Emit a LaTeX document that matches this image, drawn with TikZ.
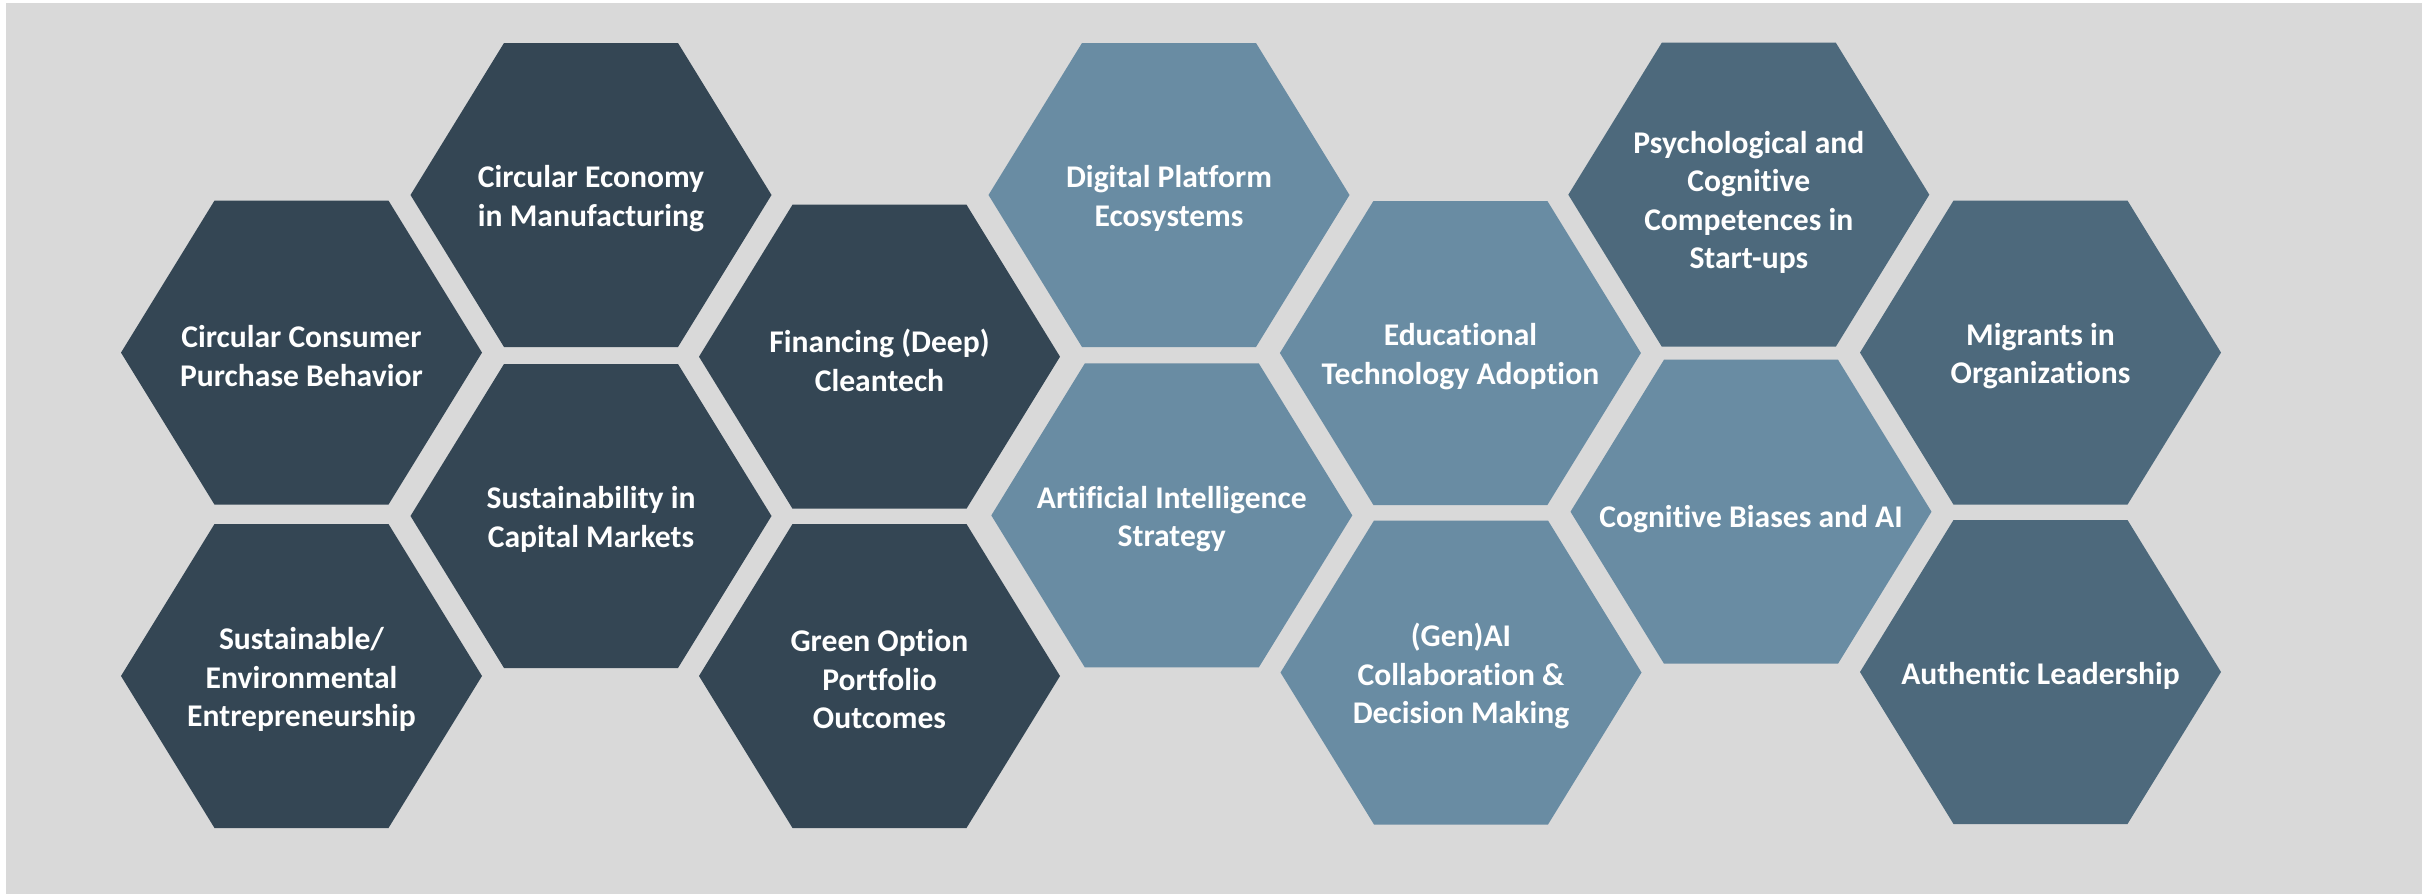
\documentclass[tikz,border=0pt]{standalone}
\usepackage{fontspec}
\setmainfont{Carlito}[Ligatures=NoCommon]
\definecolor{bggray}{HTML}{D9D9D9}
\definecolor{hexdark}{HTML}{344654}
\definecolor{hexlight}{HTML}{698CA3}
\definecolor{hexmid}{HTML}{4D697C}
\tikzset{
  hexlabel/.style={text=white, align=center, inner sep=0pt,
    font=\bfseries\fontsize{31.6}{38.5}\selectfont},
}
% name, x, y, colour, text, extra label offset
\newcommand\hexcell[6][0]{%
  \fill[#5] (#3-87,#4-152) -- (#3+87,#4-152) -- (#3+180.5,#4) -- (#3+87,#4+152)
    -- (#3-87,#4+152) -- (#3-180.5,#4) -- cycle;
  \node[hexlabel] (#2) at (#3,#4+3.5+#1) {#6};%
}
\begin{document}
\begin{tikzpicture}[x=1pt,y=-1pt]
\useasboundingbox (0,0) rectangle (2433,894);
\fill[bggray] (6,3) rectangle (2422,894);
% column 1
\hexcell{ccp}{301.5}{352.6}{hexdark}{Circular Consumer\\Purchase Behavior}
\hexcell{see}{301.5}{676}{hexdark}{Sustainable/\\Environmental\\Entrepreneurship}
% column 2
\hexcell{cem}{591}{195}{hexdark}{Circular Economy\\in Manufacturing}
\hexcell{scm}{591}{516}{hexdark}{Sustainability in\\Capital Markets}
% column 3
\hexcell{fdc}{879.5}{356.7}{hexdark}{Financing (Deep)\\Cleantech}
\hexcell{gop}{879.5}{676}{hexdark}{Green Option\\Portfolio\\Outcomes}
% column 4
\hexcell{dpe}{1169}{195}{hexlight}{Digital Platform\\Ecosystems}
\hexcell{ais}{1171.8}{515.4}{hexlight}{Artificial Intelligence\\Strategy}
% column 5
\hexcell{eta}{1460.4}{353}{hexlight}{Educational\\Technology Adoption}
\hexcell{gai}{1461}{672.5}{hexlight}{(Gen)AI\\Collaboration \&\\Decision Making}
% column 6
\hexcell[4]{pcc}{1748.8}{194.7}{hexmid}{Psychological and\\Cognitive\\Competences in\\Start-ups}
\hexcell[4]{cba}{1751}{511.7}{hexlight}{Cognitive Biases and AI}
% column 7
\hexcell{mio}{2040.5}{352.6}{hexmid}{Migrants in\\Organizations}
\hexcell{aul}{2040.5}{672}{hexmid}{Authentic Leadership}
\end{tikzpicture}
\end{document}
